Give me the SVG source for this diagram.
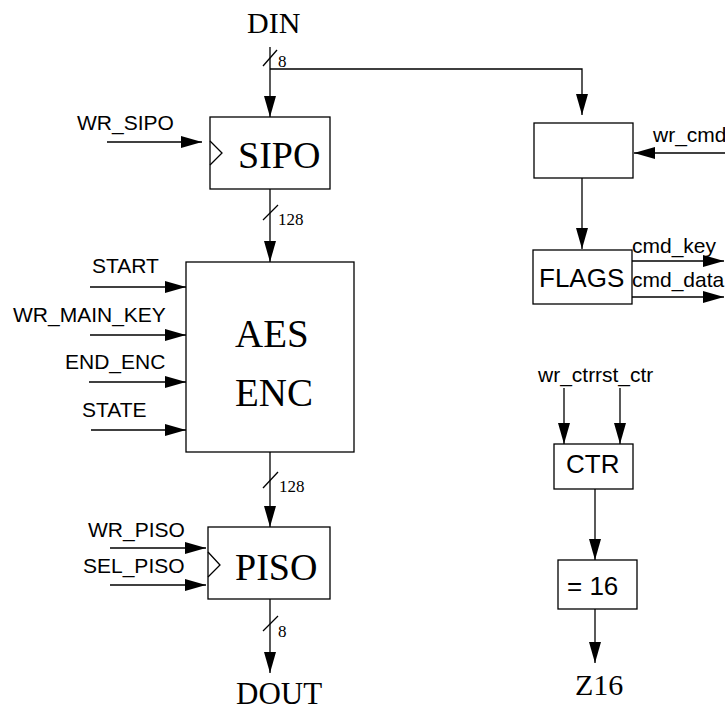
<svg xmlns="http://www.w3.org/2000/svg" width="725" height="711" viewBox="0 0 725 711">
<defs>
<marker id="arr" markerUnits="userSpaceOnUse" markerWidth="21" markerHeight="12" refX="21" refY="6" orient="auto">
<path d="M0,0 L21,6 L0,12 z" fill="#000"/>
</marker>
<style>
.box{fill:#fff;stroke:#000;stroke-width:1.3}
.ln{fill:none;stroke:#000;stroke-width:1.3}
.ar{fill:none;stroke:#000;stroke-width:1.3;marker-end:url(#arr)}
.tb{font-family:"Liberation Serif","Times New Roman",serif;fill:#000}
.ts{font-family:"Liberation Sans",Arial,sans-serif;fill:#000}
.lbl{font-family:"Liberation Sans",Arial,sans-serif;font-size:21px;fill:#000}
.bus{font-family:"Liberation Serif","Times New Roman",serif;font-size:17px;fill:#000}
</style>
</defs>
<rect width="725" height="711" fill="#fff"/>

<g id="connectors">
  <!-- DIN bus -->
  <line class="ar" x1="270" y1="47" x2="270" y2="117"/>
  <polyline class="ar" points="270,69 582,69 582,115"/>
  <line class="ln" x1="263" y1="66" x2="277" y2="50"/>
  <text class="bus" x="278" y="67">8</text>
  <!-- SIPO to AES -->
  <line class="ar" x1="270" y1="189" x2="270" y2="262"/>
  <line class="ln" x1="263" y1="220" x2="278" y2="205"/>
  <text class="bus" x="278" y="225">128</text>
  <!-- AES to PISO -->
  <line class="ar" x1="270" y1="452" x2="270" y2="527"/>
  <line class="ln" x1="263" y1="488" x2="278" y2="472"/>
  <text class="bus" x="279" y="492">128</text>
  <!-- PISO to DOUT -->
  <line class="ar" x1="270" y1="599" x2="270" y2="673"/>
  <line class="ln" x1="263" y1="631" x2="278" y2="616"/>
  <text class="bus" x="278" y="637">8</text>
  <!-- inputs -->
  <line class="ar" x1="107" y1="142" x2="202" y2="142"/>
  <text class="lbl" x="77" y="130">WR_SIPO</text>
  <line class="ar" x1="90" y1="287" x2="186" y2="287"/>
  <text class="lbl" x="92" y="273">START</text>
  <line class="ar" x1="90" y1="335" x2="186" y2="335"/>
  <text class="lbl" x="13" y="322">WR_MAIN_KEY</text>
  <line class="ar" x1="89" y1="382" x2="186" y2="382"/>
  <text class="lbl" x="65" y="369">END_ENC</text>
  <line class="ar" x1="91" y1="430" x2="186" y2="430"/>
  <text class="lbl" x="82" y="417">STATE</text>
  <line class="ar" x1="110" y1="548" x2="206" y2="548"/>
  <text class="lbl" x="88" y="537">WR_PISO</text>
  <line class="ar" x1="110" y1="585" x2="206" y2="585"/>
  <text class="lbl" x="83" y="573">SEL_PISO</text>
  <!-- right side -->
  <line class="ar" x1="725" y1="153" x2="634" y2="153"/>
  <text class="lbl" x="653" y="142">wr_cmd</text>
  <line class="ar" x1="582" y1="178" x2="582" y2="249"/>
  <line class="ar" x1="632" y1="261" x2="724" y2="261"/>
  <text class="lbl" x="632" y="253">cmd_key</text>
  <line class="ar" x1="632" y1="297" x2="724" y2="297"/>
  <text class="lbl" x="632" y="287">cmd_data</text>
  <line class="ar" x1="564" y1="388" x2="564" y2="444"/>
  <line class="ar" x1="620" y1="388" x2="620" y2="444"/>
  <text class="lbl" x="538" y="382">wr_ctr</text>
  <text class="lbl" x="595" y="382">rst_ctr</text>
  <line class="ar" x1="595" y1="489" x2="595" y2="560"/>
  <line class="ar" x1="595" y1="609" x2="595" y2="663"/>
</g>

<g id="DIN"><text class="tb" x="247" y="33" font-size="30">DIN</text></g>
<g id="DOUT"><text class="tb" x="236" y="704" font-size="31">DOUT</text></g>
<g id="Z16"><text class="tb" x="575" y="695" font-size="30">Z16</text></g>

<g id="SIPO">
  <rect class="box" x="210" y="117" width="120" height="72"/>
  <polyline class="ln" points="210,141 222,153 210,165"/>
  <text class="tb" x="238" y="168" font-size="38">SIPO</text>
</g>
<g id="AES">
  <rect class="box" x="186" y="262" width="168" height="190"/>
  <text class="tb" x="235" y="347" font-size="39">AES</text>
  <text class="tb" x="235" y="406" font-size="39">ENC</text>
</g>
<g id="PISO">
  <rect class="box" x="208" y="527" width="122" height="72"/>
  <polyline class="ln" points="208,552 220,565 208,577"/>
  <text class="tb" x="235" y="580" font-size="38">PISO</text>
</g>
<g id="CMD">
  <rect class="box" x="534" y="123" width="99" height="55"/>
</g>
<g id="FLAGS">
  <rect class="box" x="533" y="250" width="99" height="54"/>
  <text class="ts" x="539" y="287" font-size="26">FLAGS</text>
</g>
<g id="CTR">
  <rect class="box" x="554" y="444" width="79" height="45"/>
  <text class="ts" x="566" y="473" font-size="26">CTR</text>
</g>
<g id="EQ16">
  <rect class="box" x="558" y="560" width="79" height="49"/>
  <text class="ts" x="567" y="595" font-size="26">= 16</text>
</g>
</svg>
